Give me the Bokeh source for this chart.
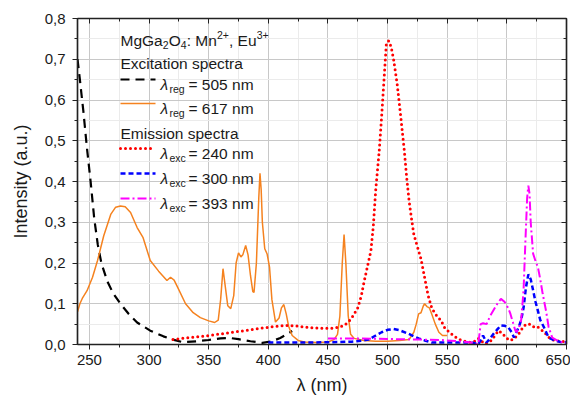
from bokeh.plotting import figure
from bokeh.models import (Range1d, LinearAxis, SingleIntervalTicker, CustomJSTickFormatter, Label)
from bokeh.embed import file_html
from bokeh.resources import INLINE

# ---------------- data ----------------
wl_ex505 = [240, 242, 245, 248, 251, 254, 257, 260, 265, 270, 276, 283, 290, 301, 312, 320, 328,
            340, 350, 360, 368, 375, 385, 395, 403, 410, 415, 420]
in_ex505 = [0.70, 0.65, 0.57, 0.48, 0.40, 0.31, 0.245, 0.20, 0.155, 0.125, 0.10, 0.075, 0.054,
            0.034, 0.02, 0.012, 0.006, 0.008, 0.011, 0.015, 0.016, 0.013, 0.008, 0.004, 0.008,
            0.016, 0.024, 0.033]

wl_ex617 = [240, 242, 244, 248, 252.6, 256.8, 262, 268, 272, 276, 280, 284.5, 290, 295, 301, 308,
            315, 318, 321, 324, 330.6, 337, 343, 350, 355, 358,
            360, 362, 364, 366, 368.5, 371, 373, 375, 377, 378.6, 381, 383, 385, 387, 388, 390,
            392, 393, 394, 395, 397, 399, 401, 403, 406, 409, 411, 413, 415, 417, 420, 425, 430,
            440, 450, 455, 458, 460, 462, 463.5, 465, 467, 469, 472, 480, 490, 500, 510, 518,
            522, 524, 526, 528, 530, 531, 533, 535, 537, 540, 543, 546, 550]
in_ex617 = [0.08, 0.10, 0.113, 0.132, 0.165, 0.206, 0.267, 0.32, 0.337, 0.34, 0.338, 0.324, 0.287,
            0.262, 0.206, 0.18, 0.157, 0.165, 0.158, 0.14, 0.10, 0.078, 0.066, 0.058, 0.054, 0.06,
            0.11, 0.186, 0.14, 0.095,
            0.088, 0.12, 0.20, 0.225, 0.215, 0.22, 0.243, 0.22, 0.17, 0.13, 0.128, 0.2, 0.36,
            0.42, 0.38, 0.3, 0.235, 0.222, 0.19, 0.11, 0.055, 0.065, 0.09, 0.098, 0.075, 0.045,
            0.022, 0.01, 0.006, 0.005, 0.006, 0.012, 0.025, 0.07, 0.2, 0.27, 0.2, 0.07, 0.025,
            0.015, 0.01, 0.008, 0.008, 0.01, 0.012, 0.03, 0.05, 0.075, 0.078, 0.095, 0.1, 0.093,
            0.09, 0.075, 0.05, 0.03, 0.022, 0.022]

wl_em240 = [320, 330, 340, 350, 363, 375, 391, 405, 416, 425, 435, 444, 455, 462, 467, 471, 475,
            478, 480, 483, 486, 488, 490, 493, 495, 497, 499, 501, 503, 505, 508, 511, 514, 516,
            518, 520, 522, 524, 526, 528, 531, 534, 537, 540, 545, 548, 553, 558, 562, 566, 570,
            573, 576, 579, 581, 584, 587, 590, 593, 596, 599, 602, 605, 608, 611, 613, 616, 619,
            621, 623, 626, 629, 632, 636, 640, 645, 650]
in_em240 = [0.012, 0.016, 0.019, 0.022, 0.027, 0.032, 0.039, 0.044, 0.047, 0.045, 0.041, 0.040,
            0.040, 0.045, 0.054, 0.07, 0.09, 0.12, 0.15, 0.19, 0.23, 0.29, 0.378, 0.476, 0.56,
            0.65, 0.74, 0.745, 0.73, 0.70, 0.64, 0.56, 0.476, 0.41, 0.353, 0.31, 0.27, 0.25,
            0.23, 0.21, 0.165, 0.12, 0.09, 0.075, 0.058, 0.04, 0.027, 0.016, 0.01, 0.007, 0.005,
            0.008, 0.015, 0.008, 0.002, 0.004, 0.01, 0.022, 0.034, 0.028, 0.018, 0.01, 0.012,
            0.02, 0.03, 0.04, 0.05, 0.05, 0.048, 0.042, 0.043, 0.036, 0.028, 0.015, 0.01, 0.008,
            0.007]

wl_em300 = [400, 420, 440, 460, 470, 478, 484, 490, 495, 500, 505, 510, 517, 522, 526, 531, 537,
            545, 555, 565, 572, 576, 578, 580, 583, 586, 589, 592, 595, 598, 601, 604, 606, 608,
            610, 612, 614, 616, 618, 620, 622, 624, 626, 628, 631, 635, 640, 645, 650]
in_em300 = [0.005, 0.005, 0.005, 0.006, 0.007, 0.009, 0.012, 0.022, 0.03, 0.036, 0.038, 0.035,
            0.027, 0.02, 0.015, 0.01, 0.005, 0.005, 0.005, 0.005, 0.004, 0.0, 0.01, 0.022, 0.005,
            0.015, 0.027, 0.037, 0.047, 0.046, 0.043, 0.03, 0.017, 0.03, 0.043, 0.06, 0.09, 0.14,
            0.172, 0.16, 0.133, 0.105, 0.083, 0.06, 0.043, 0.017, 0.01, 0.006, 0.005]

wl_em393 = [450, 470, 490, 510, 530, 545, 560, 570, 576, 578, 580, 583, 586, 589, 592, 595, 598,
            601, 603, 605, 607, 608, 610, 612, 614, 615.5, 617, 618, 619, 620, 622, 624, 626,
            628, 630, 633, 635, 638, 642, 646, 650]
in_em393 = [0.015, 0.015, 0.014, 0.013, 0.012, 0.011, 0.008, 0.005, 0.0, 0.05, 0.052, 0.05, 0.07,
            0.085, 0.10, 0.112, 0.105, 0.09, 0.075, 0.055, 0.035, 0.03, 0.04, 0.06, 0.133, 0.25,
            0.36, 0.39, 0.37, 0.3, 0.223, 0.205, 0.19, 0.16, 0.125, 0.08, 0.043, 0.017, 0.01,
            0.006, 0.005]

X_RANGE = (240, 650)
Y_RANGE = (0, 0.8)

FONT = "Liberation Sans"
ORANGE = "#F5821F"

p = figure(width=570, height=400, output_backend="svg", toolbar_location=None,
           x_range=Range1d(*X_RANGE), y_range=Range1d(*Y_RANGE),
           min_border_left=77, min_border_right=4, min_border_top=18, min_border_bottom=56)
p.background_fill_color = "white"
p.outline_line_color = "#222222"
p.outline_line_width = 1.2

p.xaxis.ticker = SingleIntervalTicker(interval=50, num_minor_ticks=2)
p.yaxis.ticker = SingleIntervalTicker(interval=0.1, num_minor_ticks=2)
p.yaxis.formatter = CustomJSTickFormatter(code="return tick.toFixed(1).replace('.', ',');")

for ax in (p.xaxis[0], p.yaxis[0]):
    ax.axis_line_color = "#222222"
    ax.axis_line_width = 1.5
    ax.major_tick_line_color = "#222222"
    ax.minor_tick_line_color = "#222222"
    ax.major_tick_out = 5
    ax.major_tick_in = 0
    ax.minor_tick_out = 3
    ax.minor_tick_in = 0
    ax.major_label_text_font = FONT
    ax.major_label_text_font_size = "15px"
    ax.major_label_text_color = "#1a1a1a"
    ax.axis_label_text_font = FONT
    ax.axis_label_text_font_size = "18px"
    ax.axis_label_text_font_style = "normal"
    ax.axis_label_text_color = "#1a1a1a"
p.xaxis.axis_label = "λ (nm)"
p.yaxis.axis_label = "Intensity (a.u.)"
p.xaxis.major_label_standoff = 5
p.xaxis.axis_label_standoff = 7
p.yaxis.major_label_standoff = 7
p.yaxis.axis_label_standoff = 11

# top and right axes: ticks pointing inwards, no labels
blank = CustomJSTickFormatter(code="return '';")
top = LinearAxis(ticker=SingleIntervalTicker(interval=50, num_minor_ticks=2), formatter=blank)
right = LinearAxis(ticker=SingleIntervalTicker(interval=0.1, num_minor_ticks=2), formatter=blank)
for ax in (top, right):
    ax.axis_line_color = "#222222"
    ax.axis_line_width = 1.5
    ax.major_tick_line_color = "#222222"
    ax.minor_tick_line_color = "#222222"
    ax.major_tick_in = 5
    ax.major_tick_out = 0
    ax.minor_tick_in = 3
    ax.minor_tick_out = 0
    ax.major_label_standoff = 0
p.add_layout(top, "above")
p.add_layout(right, "right")

p.xgrid.grid_line_color = "#c8c8c8"
p.ygrid.grid_line_color = "#c8c8c8"
p.xgrid.minor_grid_line_color = "#ebebeb"
p.ygrid.minor_grid_line_color = "#ebebeb"

# ---------------- series ----------------
p.line(wl_ex505, in_ex505, line_color="black", line_width=2.2, line_dash="9 6")
p.line(wl_ex617, in_ex617, line_color=ORANGE, line_width=1.5)
p.line(wl_em240, in_em240, line_color="#FF0000", line_width=3, line_dash="0 5", line_cap="round")
p.line(wl_em300, in_em300, line_color="#0000FF", line_width=2.5, line_dash="5 3")
p.line(wl_em393, in_em393, line_color="#FF00FF", line_width=2, line_dash="9 3 2 3")

# ---------------- legend (drawn by hand, pixel layout -> data) ----------------
FL, FR, FT, FB = 77, 566, 18, 344


def dx(px):
    return X_RANGE[0] + (px - FL) * (X_RANGE[1] - X_RANGE[0]) / (FR - FL)


def dy(py):
    return Y_RANGE[0] + (FB - py) * (Y_RANGE[1] - Y_RANGE[0]) / (FB - FT)


def txt(s, px, py, size=15.5, style="normal", off=0):
    p.add_layout(Label(x=dx(px), y=dy(py + off), text=s, text_font=FONT,
                       text_font_size=f"{size}px", text_font_style=style,
                       text_color="#1a1a1a", text_baseline="alphabetic", text_align="left"))


# title  MgGa2O4: Mn2+, Eu3+
ty = 40
txt("MgGa", 120, ty)
txt("2", 162.2, ty, size=10.5, off=4)
txt("O", 168.2, ty)
txt("4", 180.3, ty, size=10.5, off=4)
txt(": Mn", 186.2, ty)
txt("2+", 216.5, ty, size=10.5, off=-6)
txt(", Eu", 228.5, ty)
txt("3+", 256.2, ty, size=10.5, off=-6)

txt("Excitation spectra", 120, 63)
txt("Emission spectra", 120, 133)

legend_rows = [
    ("reg", "= 505 nm", 84, dict(line_color="black", line_width=2.2, line_dash="9 6")),
    ("reg", "= 617 nm", 108, dict(line_color=ORANGE, line_width=1.5)),
    ("exc", "= 240 nm", 153, dict(line_color="#FF0000", line_width=3, line_dash="0 5", line_cap="round")),
    ("exc", "= 300 nm", 178, dict(line_color="#0000FF", line_width=2.5, line_dash="5 3")),
    ("exc", "= 393 nm", 203, dict(line_color="#FF00FF", line_width=2, line_dash="9 3 2 3")),
]
for sub, rest, by, style in legend_rows:
    ly = by - 5
    p.line([dx(120), dx(155)], [dy(ly), dy(ly)], **style)
    txt("λ", 160, by, style="italic")
    txt(sub, 169, by, size=10.5, off=4)
    txt(rest, 188, by)

open("out.html", "w").write(file_html(p, INLINE))
